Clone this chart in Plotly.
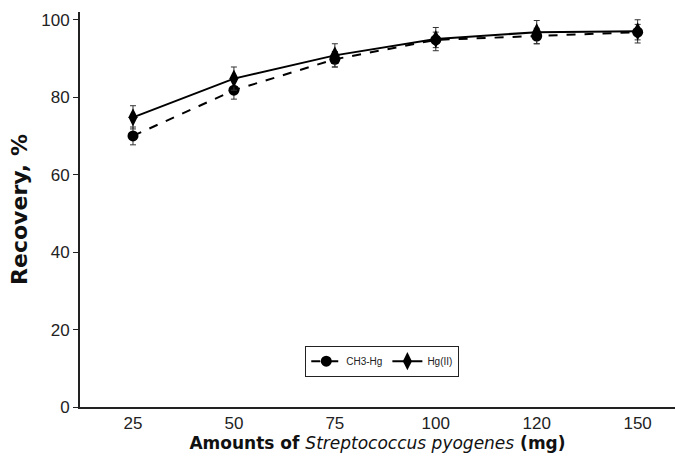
import plotly.graph_objects as go

categories = ["25", "50", "75", "100", "120", "150"]
ch3_hg = [70.0, 81.8, 89.8, 94.8, 95.8, 96.8]
ch3_err = [2.3, 2.3, 2.0, 2.0, 2.0, 2.0]
hg_ii = [74.8, 84.8, 90.8, 95.0, 96.8, 97.0]
hg_err = [3.0, 3.0, 3.0, 3.0, 3.0, 3.0]

fig = go.Figure()
fig.add_trace(go.Scatter(
    x=categories, y=ch3_hg, name="CH3-Hg", mode="lines+markers",
    line=dict(color="black", width=2, dash="dash"),
    marker=dict(symbol="circle", size=11, color="black"),
    error_y=dict(type="data", array=ch3_err, color="#333", thickness=1, width=3),
))
fig.add_trace(go.Scatter(
    x=categories, y=hg_ii, name="Hg(II)", mode="lines+markers",
    line=dict(color="black", width=2),
    marker=dict(symbol="diamond-tall", size=13, color="black"),
    error_y=dict(type="data", array=hg_err, color="#333", thickness=1, width=3),
))

fig.update_layout(
    width=675, height=462,
    margin=dict(l=80, r=0, t=12, b=55),
    plot_bgcolor="white", paper_bgcolor="white",
    font=dict(family="Liberation Sans, Arial, sans-serif", color="#222"),
    showlegend=True,
    legend=dict(
        orientation="h", x=0.508, y=0.116, xanchor="center", yanchor="middle",
        bordercolor="#222", borderwidth=1, bgcolor="white",
        font=dict(size=10, color="#222"), itemwidth=30,
    ),
)
fig.update_xaxes(
    type="category", range=[-0.525, 5.37],
    showline=True, linecolor="#222", linewidth=2,
    ticks="", tickfont=dict(size=17, color="#222"),
    showgrid=False, zeroline=False,
    title=dict(text="<b>Amounts of </b><i>Streptococcus pyogenes</i><b> (mg)</b>",
               font=dict(family="DejaVu Sans", size=17, color="#111"), standoff=4),
)
fig.update_yaxes(
    range=[0, 102], tickvals=[0, 20, 40, 60, 80, 100],
    showline=True, linecolor="#222", linewidth=2,
    ticks="outside", ticklen=5, tickcolor="#222",
    tickfont=dict(size=17, color="#222"),
    showgrid=False, zeroline=False,
    title=dict(text="<b>Recovery, %</b>", font=dict(family="DejaVu Sans", size=22, color="#111"), standoff=8),
)

fig.write_html("out.html")
